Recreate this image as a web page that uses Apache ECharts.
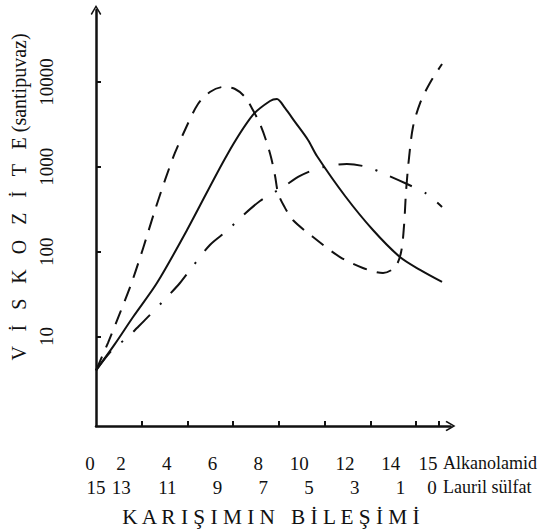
<!DOCTYPE html>
<html>
<head>
<meta charset="utf-8">
<script src="https://cdn.jsdelivr.net/npm/echarts@6/dist/echarts.min.js"></script>
<style>html,body{margin:0;padding:0;background:#fff}#c{width:540px;height:531px}</style>
</head>
<body>
<div id="c"></div>
<script>
// Tick labels (two rows: Alkanolamid / Lauril sülfat)
const alkanolamid = [0, 2, 4, 6, 8, 10, 12, 14, 15];
const laurilSulfat = [15, 13, 11, 9, 7, 5, 3, 1, 0];
const yTickValues = [10, 100, 1000, 10000];

// Solid curve
const solidX = [0, 0.83, 1.62, 2.67, 3.98, 5.73, 6.86, 7.61, 7.91, 8.26, 8.70, 9.27, 9.66, 10.89, 12.11, 13.29, 14.17, 15.13];
const solidV = [4, 8.2, 17, 43, 180, 1380, 4080, 5960, 6290, 4930, 3380, 2070, 1340, 453, 180, 86.5, 61, 44];

// Dashed curve
const dashX = [0, 0.52, 1.05, 1.57, 2.06, 2.58, 3.02, 3.45, 3.93, 4.46, 4.98, 5.55, 6.08, 6.51, 6.86, 7.17, 7.43, 7.65, 7.83, 7.96, 8.22, 8.61, 9.49, 10.67, 11.67, 12.55, 13.08, 13.34, 13.47, 13.56, 13.69, 13.86, 14.17, 14.60, 15.13];
const dashV = [4, 8.4, 19, 44, 110, 310, 700, 1455, 2865, 5495, 7600, 8710, 8250, 6640, 4670, 3190, 2070, 1303, 778, 491, 345, 236, 149, 86.5, 64.3, 56.1, 66, 99, 206, 533, 1303, 2944, 5640, 9700, 16250];

// Dash-dot curve
const dotX = [0, 0.70, 1.40, 1.79, 2.23, 3.15, 3.67, 4.11, 4.98, 5.77, 6.30, 7.17, 8.18, 8.92, 9.79, 10.97, 11.85, 12.72, 13.60, 14.47, 15.13];
const dotV = [4, 6.95, 9.9, 12.6, 16.6, 30.1, 42.8, 60.9, 120, 180, 249, 395, 578, 780, 969, 1079, 995, 800, 627, 478, 336];

const zip = (xs, vs) => xs.map((x, i) => [x, vs[i]]);
const FONT = '"Liberation Serif", "DejaVu Serif", serif';
const INK = '#111';
const chevron = 'path://M0,10 L6,0 L12,10 L10.6,11.2 L6,3.2 L1.4,11.2 Z';
const lbl = (pad) => ({fontFamily: FONT, fontSize: 19, color: INK, lineHeight: 24, padding: [0, pad, 0, 0]});
const rowLabel = (v, s) => {
  const i = alkanolamid.indexOf(v);
  return '{a' + s + '|' + alkanolamid[i] + '}\n{b' + s + '|' + laurilSulfat[i] + '}';
};
const interior = alkanolamid.slice(1, -1);
const ends = [alkanolamid[0], alkanolamid[alkanolamid.length - 1]];
const X_MIN = 0, X_MAX = 15.5;

const chart = echarts.init(document.getElementById('c'), null, {renderer: 'svg'});
chart.setOption({
  backgroundColor: '#fff',
  animation: false,
  title: {
    text: 'K A R I Ş I M I N   B İ L E Ş İ M İ',
    left: 266, top: 501, textAlign: 'center',
    textStyle: {fontFamily: FONT, fontSize: 21.3, fontWeight: 'normal', color: INK}
  },
  graphic: [
    {type: 'text', left: 443, top: 454, style: {text: 'Alkanolamid', font: '18px ' + FONT, fill: INK}},
    {type: 'text', left: 443, top: 478, style: {text: 'Lauril sülfat', font: '18px ' + FONT, fill: INK}}
  ],
  grid: {left: 96, right: 89.5, top: 10, bottom: 105, outerBoundsMode: 'none', containLabel: false},
  xAxis: [{
    type: 'value', min: X_MIN, max: X_MAX, position: 'bottom',
    splitLine: {show: false},
    axisLine: {show: true, onZero: false, symbol: ['none', chevron], symbolSize: [12, 10], lineStyle: {color: INK, width: 2.5}},
    axisTick: {show: true, inside: true, length: 5, customValues: alkanolamid.slice(1), lineStyle: {color: INK, width: 2}},
    axisLabel: {
      show: true, margin: 25, customValues: interior, align: 'right',
      formatter: v => rowLabel(v, ''),
      rich: {a: lbl(16), b: lbl(11)}
    }
  }, {
    type: 'value', min: X_MIN, max: X_MAX, position: 'bottom',
    splitLine: {show: false}, axisLine: {show: false}, axisTick: {show: false},
    axisLabel: {
      show: true, margin: 25, customValues: ends, align: 'center',
      formatter: v => rowLabel(v, v === ends[0] ? '0' : 'L'),
      rich: {a0: lbl(12), b0: lbl(0), aL: lbl(22), bL: lbl(14)}
    }
  }],
  yAxis: {
    type: 'log', logBase: 10, min: 0.885, max: 70300,
    name: 'V   İ   S   K   O   Z   İ   T   E (santipuvaz)',
    nameLocation: 'middle', nameRotate: 90, nameGap: 64,
    nameTextStyle: {fontFamily: FONT, fontSize: 20, color: INK, padding: [0, 0, 0, 42]},
    splitLine: {show: false},
    axisLine: {show: true, onZero: false, symbol: ['none', chevron], symbolSize: [12, 10], lineStyle: {color: INK, width: 2.5}},
    axisTick: {show: true, inside: true, length: 5, customValues: yTickValues, lineStyle: {color: INK, width: 2}},
    axisLabel: {show: true, rotate: 90, margin: 40, customValues: yTickValues, fontFamily: FONT, fontSize: 19, color: INK,
      formatter: v => String(Math.round(v))}
  },
  series: [
    {type: 'line', data: zip(solidX, solidV), smooth: 0.3, showSymbol: false, clip: false,
      lineStyle: {color: INK, width: 2, type: 'solid'}},
    {type: 'line', data: zip(dashX, dashV), smooth: 0.3, showSymbol: false, clip: false,
      lineStyle: {color: INK, width: 2, type: [15, 10]}},
    {type: 'line', data: zip(dotX, dotV), smooth: 0.3, showSymbol: false, clip: false,
      lineStyle: {color: INK, width: 2, type: [24, 14, 2, 14]}}
  ]
});
</script>
</body>
</html>
